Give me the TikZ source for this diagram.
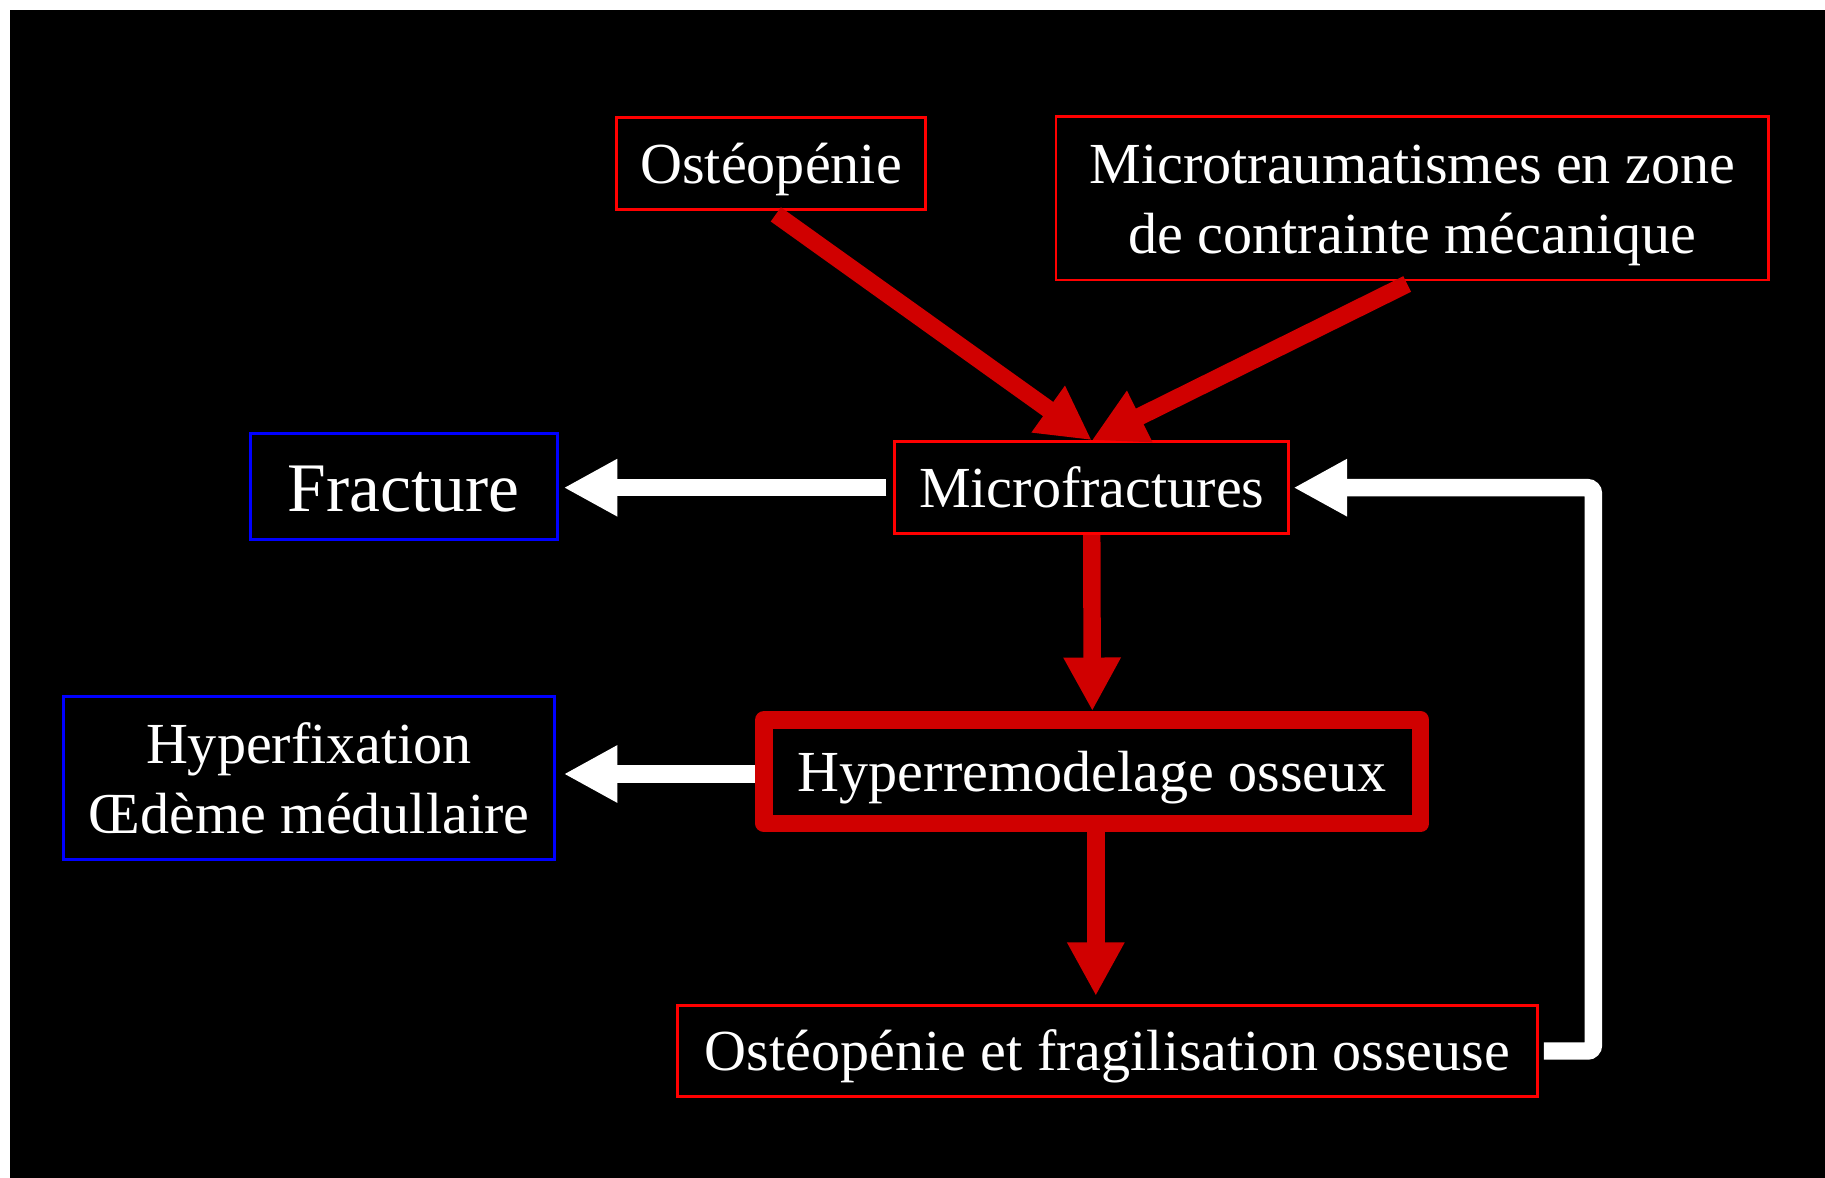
\documentclass[tikz,border=0pt]{standalone}
\usepackage{fontspec}
\setmainfont{Liberation Serif}
\usetikzlibrary{arrows.meta,calc}
\definecolor{thickred}{RGB}{208,0,0}
\definecolor{thinred}{RGB}{255,0,0}
\definecolor{boxblue}{RGB}{0,0,255}
\begin{document}
\begin{tikzpicture}[x=0.01cm,y=-0.01cm,
  txt/.style={text=white,font=\fontsize{14.2}{17}\selectfont,align=center,inner sep=0pt},
  oneline/.style={text height=12.5pt,text depth=2.8pt},
  redbox/.style={txt,draw=thinred,line width=0.025cm},
  bluebox/.style={txt,draw=boxblue,line width=0.025cm},
  thickbox/.style={txt,draw=thickred,line width=0.15cm,line join=round},
  redarrow/.style={draw=thickred,line width=0.15cm,-{Triangle[width=0.46cm,length=0.46cm]}},
  whitearrow/.style={draw=white,line width=0.15cm,-{Triangle[width=0.46cm,length=0.46cm]}}]
\useasboundingbox (0,0) rectangle (1568,1012);
\fill[white] (0,0) rectangle (1568,1012);
\fill[black] (8.6,8.6) rectangle (1568,1012);

\node[redbox,oneline,minimum width=2.65cm,minimum height=0.79cm] (ost) at (662.5,140.5) {Ostéopénie};
\node[redbox,minimum width=6.12cm,minimum height=1.40cm] (micro) at (1213.5,170.5) {\rule{0pt}{12.7pt}Microtraumatismes en zone\\de contrainte mécanique};
\node[redbox,oneline,minimum width=3.38cm,minimum height=0.79cm] (mf) at (938,419) {Microfractures};
\node[bluebox,minimum width=2.64cm,minimum height=0.91cm,font=\fontsize{17}{20}\selectfont,text height=15pt,text depth=3pt] (frac) at (347,418) {Fracture};
\node[bluebox,minimum width=4.21cm,minimum height=1.40cm] (hfx) at (265.5,668.5) {Hyperfixation\\Œdème médullaire};
\node[thickbox,oneline,minimum width=5.64cm,minimum height=0.89cm] (hr) at (938.5,663) {Hyperremodelage osseux};
\node[redbox,oneline,minimum width=7.39cm,minimum height=0.78cm] (ofo) at (951.5,903) {Ostéopénie et fragilisation osseuse};

\draw[redarrow,shorten <=0.05cm] (ost.south) -- (mf.north);
\draw[redarrow,shorten <=0.05cm] (micro.south) -- (mf.north);
\draw[redarrow] (mf.south) -- (hr.north);
\coordinate (hrs) at ($(hr.south)+(3,0)$);
\draw[redarrow,shorten >=0.07cm] (hrs) -- (hrs |- ofo.north);

\draw[whitearrow,shorten <=0.06cm,shorten >=0.04cm] (mf.west) -- (mf.west -| frac.east);
\coordinate (hrw) at ($(hr.west)+(0,2)$);
\draw[whitearrow,shorten >=0.07cm] (hrw) -- (hrw -| hfx.east);
\coordinate (fb) at (1369,419);
\draw[whitearrow,rounded corners=0.05cm,shorten <=0.04cm,shorten >=0.03cm] (ofo.east) -- (ofo.east -| fb) -- (fb) -- (mf.east);
\end{tikzpicture}
\end{document}
